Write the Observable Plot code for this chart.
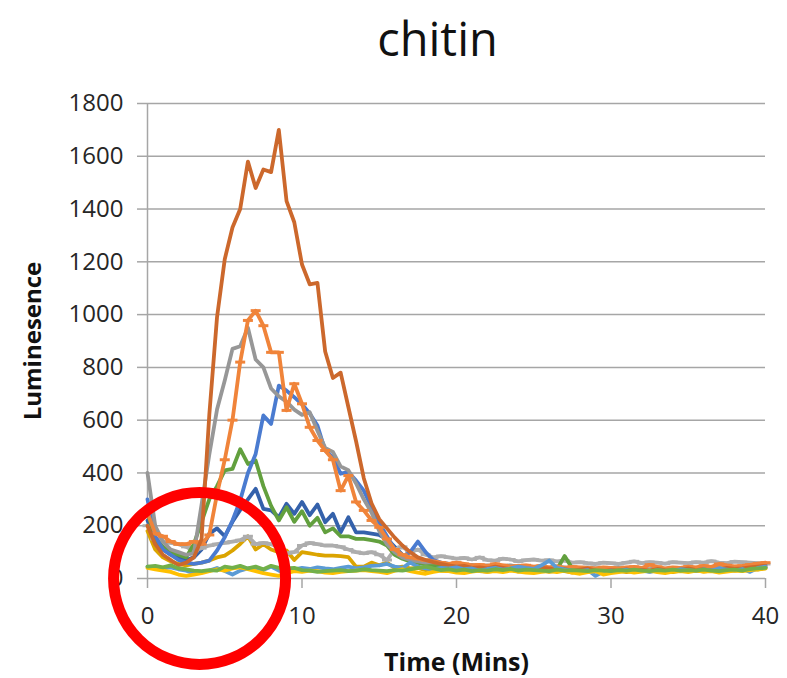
<!DOCTYPE html>
<html><head><meta charset="utf-8">
<script src="https://cdn.jsdelivr.net/npm/d3@7"></script>
<script src="https://cdn.jsdelivr.net/npm/@observablehq/plot@0.6"></script>
<style>body{margin:0;background:#fff} #chart{width:787px;height:678px}</style>
</head><body><div id="chart"></div>
<script>
// sampling times (minutes), every 0.5 min from 0 to 40
const times = d3.range(0, 40.001, 0.5);
const xTicks = [0, 10, 20, 30, 40];
const yTicks = [0, 200, 400, 600, 800, 1000, 1200, 1400, 1600, 1800];
const title = "chitin";
const xLabel = "Time (Mins)";
const yLabel = "Luminesence";

const darkOrange = [200,130,90,70,50,60,80,150,620,990,
1210,1330,1400,1580,1480,1550,1540,1700,1430,1350,
1190,1115,1120,860,760,780,650,520,380,285,
225,190,155,125,100,80,70,62,55,50,
45,48,40,42,38,45,40,35,42,38,
35,40,38,32,36,30,34,38,30,28,
32,30,35,28,33,30,36,32,30,34,
38,32,35,30,34,40,36,38,42,45,
48];
const gray = [400,200,140,110,100,90,95,280,470,640,
750,870,880,950,830,800,720,690,670,640,
620,630,560,495,480,425,410,360,300,250,
180,130,100,80,70,65,60,62,58,55,
55,50,52,48,50,45,48,50,44,46,
42,45,40,44,42,38,40,42,38,40,
38,40,36,38,40,35,38,36,40,38,
36,40,38,42,40,38,44,42,45,48,
50];
const orangeDash = [250,170,160,140,130,130,140,130,165,320,
450,600,820,978,1015,958,857,857,637,738,
662,573,523,485,450,333,390,290,258,220,
194,150,110,90,80,75,70,65,60,55,
60,55,50,52,48,55,50,45,48,50,
45,48,42,46,40,44,42,40,38,42,
40,38,42,44,40,52,44,38,42,40,
45,42,48,44,55,50,46,48,52,56,
60];
const blue = [300,160,110,90,70,60,55,60,68,106,
156,220,296,400,472,618,586,731,712,687,
660,625,580,485,460,397,403,371,333,270,
210,160,110,80,100,140,100,70,60,55,
50,45,48,42,45,40,38,42,40,36,
38,35,40,45,38,35,32,36,30,34,
30,32,28,34,30,28,32,30,34,36,
32,30,34,38,36,40,34,38,42,48,
55];
const green = [250,150,120,100,90,80,130,215,300,350,
410,415,490,434,447,350,275,220,270,215,
255,200,230,175,190,160,160,150,150,145,
140,125,90,75,65,60,55,52,50,48,
45,42,40,44,38,40,36,38,42,35,
38,36,40,34,85,38,35,32,36,30,
34,30,32,28,30,34,30,28,32,30,
34,30,32,36,34,30,38,36,34,40,
42];
const darkBlue = [220,140,110,90,80,70,80,110,170,190,
160,215,260,300,340,264,258,232,283,245,
290,240,280,213,245,175,232,175,175,170,
165,150,120,90,70,60,55,50,48,45,
40,42,38,36,40,38,35,40,36,34,
38,32,35,30,34,32,30,34,28,32,
30,34,28,32,30,28,34,30,32,30,
28,32,30,34,32,30,36,34,38,40,
42];
const gold = [180,110,80,65,55,50,55,60,68,80,
87,106,131,160,110,130,110,100,106,70,
100,95,90,87,87,85,81,45,45,60,
50,60,40,45,38,40,32,36,30,28,
30,26,32,28,25,30,28,34,26,30,
28,32,25,30,28,22,30,26,28,24,
26,30,24,28,32,26,30,28,24,30,
28,32,26,30,34,28,32,30,36,34,
38];
const lightGray = [200,150,140,135,130,120,105,115,125,130,
135,140,145,160,130,135,130,120,95,100,
125,135,130,125,125,120,110,100,95,100,
90,70,110,120,100,110,90,80,85,80,
75,78,72,80,70,68,75,72,65,70,
72,68,70,65,68,60,62,58,55,60,
58,55,60,65,58,62,60,56,62,60,
58,62,60,66,60,58,64,62,60,58,
55];
const lightBlue = [45,40,38,42,35,30,20,25,30,40,
28,15,30,38,40,32,45,30,20,35,
40,36,42,38,35,40,45,38,42,48,
50,55,45,40,60,45,38,35,40,38,
42,35,38,30,36,40,34,38,45,40,
36,50,68,40,35,30,28,32,10,25,
30,28,34,26,30,25,32,28,30,35,
32,28,35,30,38,34,30,36,25,40,
45];
const lightGreen = [45,48,42,50,38,35,30,28,32,30,
45,40,48,38,45,35,48,40,38,40,
32,30,25,28,30,32,28,30,35,32,
30,28,32,30,35,40,45,38,32,35,
30,34,28,32,30,35,32,36,30,34,
32,30,28,34,30,32,30,28,32,30,
28,32,30,34,30,28,32,30,34,30,
32,30,34,30,28,32,34,30,36,38,
40];
const yellow = [40,35,30,25,15,10,15,20,28,35,
30,38,42,35,28,20,15,10,20,28,
25,30,28,22,20,25,28,30,32,28,
25,20,30,35,28,22,18,25,30,28,
22,20,26,30,25,28,24,30,26,22,
20,25,28,24,30,22,18,24,28,15,
20,24,28,22,26,30,24,20,26,28,
24,30,26,28,22,26,30,28,32,35,
38];

// annotation circle (centre in data units)
const annotation = [{t: 3.37, v: 0}];

const series = [
  {name: "darkBlue", values: darkBlue, color: "#3461AB", dash: false},
  {name: "gold", values: gold, color: "#DBA400", dash: false},
  {name: "lightGray", values: lightGray, color: "#ADADAD", dash: true},
  {name: "green", values: green, color: "#62A03E", dash: false},
  {name: "blue", values: blue, color: "#4A7BD0", dash: false},
  {name: "gray", values: gray, color: "#979797", dash: false},
  {name: "orangeDash", values: orangeDash, color: "#F0843A", dash: true},
  {name: "darkOrange", values: darkOrange, color: "#CC682C", dash: false},
  {name: "lightBlue", values: lightBlue, color: "#5B9BD5", dash: false},
  {name: "yellow", values: yellow, color: "#FFC000", dash: false},
  {name: "lightGreen", values: lightGreen, color: "#72B04A", dash: false}
];

const dashSymbol = {
  draw(ctx, size) {
    const r = Math.sqrt(size / Math.PI);
    ctx.moveTo(-r, 0);
    ctx.lineTo(r, 0);
  }
};

const font = "'Open Sans', sans-serif";
const fmt = d3.format("d");
const marks = [
  Plot.gridY(yTicks, {stroke: "#A6A6A6", strokeOpacity: 1, strokeWidth: 1.5}),
  Plot.ruleX([0], {stroke: "#A6A6A6", strokeWidth: 1.5}),
  Plot.axisY(yTicks, {tickSize: 10, tickPadding: 14, tickFormat: fmt, stroke: "#A6A6A6", strokeWidth: 1.5, fill: "#262626", fontSize: 24, fontFamily: font, label: null}),
  Plot.axisX(xTicks, {tickSize: 10, tickPadding: 18, tickFormat: fmt, stroke: "#A6A6A6", strokeWidth: 1.5, fill: "#262626", fontSize: 24, fontFamily: font, label: null})
];
for (const s of series) {
  const rows = s.values.map((v, i) => ({t: times[i], v}));
  marks.push(Plot.line(rows, {x: "t", y: "v", stroke: s.color, strokeWidth: 3.8, strokeLinejoin: "round", strokeLinecap: "round"}));
  if (s.dash) {
    marks.push(Plot.dot(rows, {x: "t", y: "v", symbol: dashSymbol, r: 5, stroke: s.color, strokeWidth: 3, fill: "none"}));
  }
}
marks.push(
  Plot.dot(annotation, {x: "t", y: "v", r: 86, stroke: "#FF0000", strokeWidth: 11, fill: "none"}),
  Plot.text([title], {frameAnchor: "top", dx: -19, dy: -48, lineAnchor: "bottom", fontSize: 47, fontFamily: font, fill: "#111"}),
  Plot.text([xLabel], {frameAnchor: "bottom", dy: 92, lineAnchor: "bottom", textAnchor: "middle", fontSize: 25, fontWeight: "bold", fontFamily: font, fill: "#111"}),
  Plot.text([yLabel], {frameAnchor: "left", dx: -114, rotate: -90, lineAnchor: "middle", textAnchor: "middle", fontSize: 24, fontWeight: "bold", fontFamily: font, fill: "#111"})
);

const chart = Plot.plot({
  width: 787, height: 678,
  marginLeft: 147, marginRight: 22, marginTop: 103, marginBottom: 100,
  x: {domain: [0, 40]},
  y: {domain: [0, 1800]},
  style: {fontFamily: font, background: "#fff", color: "#262626"},
  marks
});
document.getElementById("chart").appendChild(chart);
</script>
</body></html>
